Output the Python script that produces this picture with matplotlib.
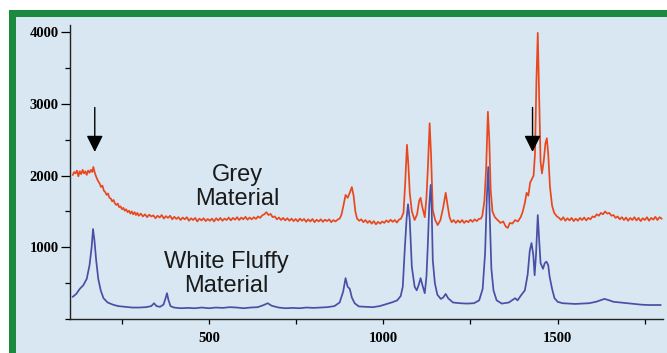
import matplotlib
matplotlib.use("Agg")
import matplotlib.pyplot as plt
from matplotlib.patches import Rectangle
from matplotlib.ticker import MultipleLocator

# Raman spectra (wavenumber cm-1, counts)
# grey material, in pieces: shoulder + baseline, band region, tail
grey_x_low = [110, 114, 118, 122, 126, 130, 134, 138, 142, 146, 150, 154, 158,
              162, 166, 169, 172, 175, 179, 183, 187, 191, 195, 199, 203, 207,
              211, 215, 219, 223, 227, 231, 235, 239, 243, 247, 251, 255, 259,
              263, 267, 271, 275, 279, 283, 287, 291, 295, 299,
              305, 311, 317, 323, 329, 335, 341, 347, 353, 359, 365, 371, 377,
              383, 389, 395, 401, 407, 413, 419, 425, 431, 437, 443, 449, 455,
              461, 467, 473, 479, 485, 491, 497, 503, 509, 515, 521, 527, 533,
              539, 545, 551, 557, 563, 569, 575, 581, 587, 593, 599, 605, 611,
              617, 623, 629, 635, 641, 647, 653, 659, 665, 671, 677, 683, 689,
              695, 701, 707, 713, 719, 725, 731, 737, 743, 749, 755, 761, 767,
              773, 779, 785, 791, 797, 803, 809, 815, 821, 827, 833, 839, 845,
              851, 857, 863, 869, 875]
grey_y_low = [2010, 2050, 2030, 2070, 1990, 2060, 2020, 2080, 2030, 2060, 2010,
              2070, 2040, 2080, 2050, 2120, 2060, 2010, 1960, 1920, 1890, 1840,
              1860, 1790, 1770, 1730, 1750, 1690, 1680, 1640, 1660, 1610, 1590,
              1610, 1560, 1570, 1530, 1550, 1510, 1530, 1490, 1510, 1470, 1500,
              1460, 1490, 1450, 1480, 1440,
              1470, 1430, 1460, 1420, 1455, 1430, 1445, 1405, 1440, 1415, 1450,
              1400, 1435, 1410, 1440, 1390, 1425, 1395, 1420, 1380, 1415, 1390,
              1420, 1370, 1405, 1380, 1410, 1360, 1400, 1375, 1405, 1365, 1395,
              1370, 1400, 1360, 1405, 1375, 1410, 1370, 1400, 1380, 1415, 1375,
              1410, 1385, 1420, 1380, 1415, 1390, 1425, 1385, 1415, 1390, 1420,
              1395, 1430, 1410, 1445, 1460, 1490, 1450, 1465, 1420, 1430, 1390,
              1415, 1380, 1410, 1375, 1405, 1370, 1400, 1365, 1395, 1360, 1400,
              1370, 1395, 1355, 1390, 1360, 1395, 1350, 1385, 1360, 1390, 1355,
              1385, 1365, 1390, 1350, 1380, 1360, 1385, 1400]

grey_x_mid = [880, 885, 892, 898, 904, 910, 915, 920, 925,
              931, 937, 943, 949, 955, 961, 967, 973, 979, 985, 991, 997, 1003,
              1009, 1015, 1021, 1027, 1033, 1039, 1045, 1051, 1058, 1063, 1068,
              1072, 1076, 1082, 1090, 1097, 1103, 1107, 1112, 1119, 1124, 1128,
              1133, 1137, 1142, 1149, 1156, 1164, 1172, 1179, 1184, 1190,
              1196, 1202, 1208, 1214, 1220, 1226, 1232, 1238, 1244, 1250, 1256,
              1262, 1268, 1274, 1280, 1284, 1290, 1295, 1300, 1304, 1308, 1313,
              1320, 1328, 1336, 1344, 1351, 1357, 1363, 1370, 1378, 1386, 1394,
              1400, 1406, 1411, 1416, 1421, 1426, 1431, 1435, 1439, 1443, 1447,
              1451, 1455, 1460, 1465, 1469, 1473, 1478, 1484, 1490, 1498]
grey_y_mid = [1450, 1560, 1730, 1690, 1760, 1840, 1720, 1500, 1400,
              1370, 1390, 1350, 1380, 1340, 1370, 1330, 1365, 1320, 1355, 1330,
              1360, 1340, 1375, 1350, 1385, 1355, 1380, 1345, 1385, 1400, 1480,
              1900, 2430, 2150, 1760, 1500, 1380, 1460, 1650, 1690, 1560, 1420,
              1700, 2120, 2730, 2300, 1520, 1380, 1310, 1380, 1560, 1760, 1600,
              1420, 1350, 1380, 1340, 1375, 1345, 1380, 1340, 1370, 1350, 1385,
              1355, 1390, 1365, 1395, 1400, 1440, 1650, 2100, 2890, 2500, 1800,
              1500, 1420, 1380, 1340, 1360, 1290, 1270, 1340, 1330, 1380, 1360,
              1420, 1500, 1620, 1760, 1720, 1900, 1950, 2000, 2300, 3300, 3990,
              3100, 2200, 2030, 2200, 2450, 2520, 2300, 1840, 1580, 1480, 1430]

grey_x_high = [1504, 1510, 1516, 1522, 1528, 1534, 1540, 1546, 1552, 1558, 1564,
               1570, 1576, 1582, 1588, 1594, 1600, 1606, 1612, 1618, 1624, 1630,
               1636, 1642, 1648, 1654, 1660, 1666, 1672, 1678, 1684, 1690, 1696,
               1702, 1708, 1714, 1720, 1726, 1732, 1738, 1744, 1750, 1756, 1762,
               1768, 1774, 1780, 1786, 1792, 1798]
grey_y_high = [1410, 1380, 1420, 1370, 1405, 1375, 1410, 1365, 1400, 1370, 1410,
               1380, 1415, 1375, 1410, 1390, 1430, 1420, 1460, 1440, 1480, 1460,
               1500, 1470, 1480, 1440, 1450, 1410, 1430, 1390, 1420, 1380, 1415,
               1370, 1410, 1380, 1420, 1375, 1410, 1365, 1405, 1380, 1420, 1370,
               1410, 1385, 1425, 1380, 1420, 1400]

grey_x = grey_x_low + grey_x_mid + grey_x_high
grey_y = grey_y_low + grey_y_mid + grey_y_high

# white fluffy material
white_x = [110, 120, 130, 140, 150, 158, 164, 168, 172, 177, 183, 190, 198, 210,
           225, 240, 260, 280, 300, 320, 335, 343, 350, 360, 370, 376, 380, 384,
           390, 400, 420, 440, 460, 480, 500, 520, 540, 560, 580, 600, 620, 640,
           655, 669, 680, 700, 720, 740, 760, 780, 800, 820, 840, 860, 875, 885,
           892, 898, 904, 910, 918, 930, 950, 970, 990, 1010, 1027, 1040, 1050,
           1056, 1062, 1067, 1071, 1076, 1082, 1090, 1096, 1102, 1107, 1113, 1119,
           1124, 1128, 1132, 1136, 1139, 1142, 1148, 1155, 1165, 1172, 1179, 1186,
           1200, 1220, 1240, 1260, 1275, 1285, 1292, 1297, 1301, 1305, 1310, 1316,
           1325, 1340, 1360, 1372, 1378, 1385, 1395, 1406, 1414, 1420, 1425, 1430,
           1434, 1438, 1443, 1447, 1451, 1458, 1463, 1468, 1473, 1477, 1484, 1491,
           1500, 1514, 1530, 1550, 1570, 1590, 1610, 1625, 1634, 1645, 1660, 1680,
           1700, 1720, 1740, 1760, 1780, 1795]
white_y = [310, 350, 420, 470, 560, 750, 1000, 1255, 1100, 820, 560, 400, 290, 230,
           200, 180, 170, 160, 160, 165, 180, 220, 180, 170, 200, 290, 360, 270,
           180, 160, 150, 155, 150, 160, 150, 160, 155, 165, 160, 150, 160, 165,
           190, 220, 185, 160, 150, 155, 150, 160, 155, 160, 165, 180, 230, 380,
           570, 450, 420, 300, 220, 175, 170, 165, 180, 210, 235, 260, 320, 450,
           1000, 1400, 1600, 1380, 725, 450, 400, 480, 570, 460, 360, 600, 1060,
           1600, 1870, 1500, 820, 500, 340, 280, 300, 350, 290, 230, 220, 215,
           220, 260, 420, 920, 1700, 2120, 1500, 700, 400, 260, 215, 230, 270,
           290, 260, 330, 400, 620, 950, 1060, 900, 610, 900, 1450, 1100, 780,
           700, 780, 800, 750, 590, 420, 290, 240, 220, 215, 210, 215, 220, 240,
           265, 280, 265, 240, 230, 220, 210, 200, 195, 195, 195]

arrow_x = [173, 1428]

GREY_COLOR = "#e9481f"
WHITE_COLOR = "#4a4ea6"
BG_COLOR = "#d8e7f1"
FRAME_COLOR = "#1b8a3f"


def main():
    fig = plt.figure(figsize=(6.67, 3.53), dpi=100)
    fig.patch.set_facecolor("white")
    W, H = 667.0, 353.0

    # green frame (top + left only) and pale blue panel
    fig.patches.append(Rectangle((9 / W, 0), 1, (H - 10) / H,
                                 transform=fig.transFigure,
                                 facecolor=FRAME_COLOR, edgecolor="none",
                                 zorder=-2))
    fig.patches.append(Rectangle((16 / W, 0), 1, (H - 17) / H,
                                 transform=fig.transFigure,
                                 facecolor=BG_COLOR, edgecolor="none",
                                 zorder=-1))

    ax = fig.add_axes([70 / W, 34 / H, (663 - 70) / W, (319 - 25) / H])
    ax.set_zorder(2)
    ax.set_facecolor("none")

    ax.plot(grey_x, grey_y, color=GREY_COLOR, lw=1.25)
    ax.plot(white_x, white_y, color=WHITE_COLOR, lw=1.25)

    ax.set_xlim(102, 1802)
    ax.set_ylim(0, 4100)

    for side in ("top", "right"):
        ax.spines[side].set_visible(False)
    for side in ("left", "bottom"):
        ax.spines[side].set_linewidth(1.0)
        ax.spines[side].set_color("#222222")

    ax.xaxis.set_major_locator(MultipleLocator(500))
    ax.xaxis.set_minor_locator(MultipleLocator(250))
    ax.yaxis.set_major_locator(MultipleLocator(1000))
    ax.yaxis.set_minor_locator(MultipleLocator(500))
    ax.set_yticks([1000, 2000, 3000, 4000])
    ax.tick_params(axis="y", which="major", length=6.5, width=0.9, pad=1.5)
    ax.tick_params(axis="y", which="minor", length=3.5, width=0.9)
    ax.tick_params(axis="x", which="major", length=3.5, width=0.9, pad=6)
    ax.tick_params(axis="x", which="minor", length=3.5, width=0.9)
    for lab in ax.get_xticklabels() + ax.get_yticklabels():
        lab.set_family("Liberation Serif")
        lab.set_fontweight("bold")
        lab.set_fontsize(10.5)

    # arrows marking the two features
    for xa in arrow_x:
        ax.annotate("", xy=(xa, 2330), xytext=(xa, 2950),
                    arrowprops=dict(arrowstyle="-|>,head_length=1.0,head_width=0.5",
                                    color="black", lw=1.0, shrinkA=0, shrinkB=0))

    txt = dict(family="Liberation Sans", fontsize=17, color="#1a1a1a",
               ha="center", va="baseline")
    ax.text(583, 1925, "Grey", **txt)
    ax.text(583, 1590, "Material", **txt)
    ax.text(549, 711, "White Fluffy", **txt)
    ax.text(549, 377, "Material", **txt)

    fig.savefig("out.png", dpi=100, facecolor=fig.get_facecolor())


if __name__ == "__main__":
    main()
